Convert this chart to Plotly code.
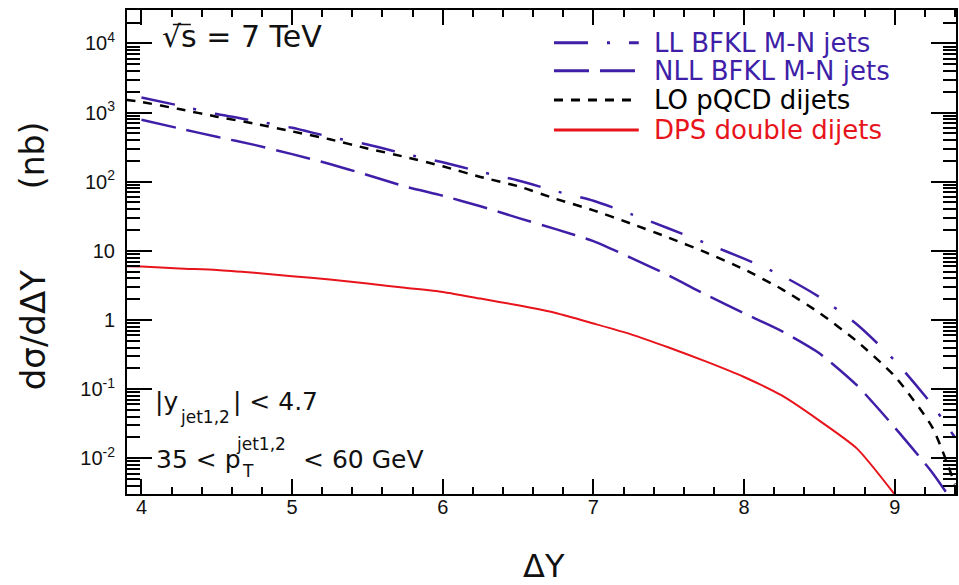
import plotly.graph_objects as go

# ---------------- data ----------------
dY_bfkl = [4.0, 4.25, 4.5, 4.75, 5.0, 5.25, 5.5, 5.75, 6.0, 6.25, 6.5, 6.75,
           7.0, 7.25, 7.5, 7.75, 8.0, 8.25, 8.5, 8.75, 9.0, 9.25, 9.4]
ll_bfkl = [1650, 1260, 950, 760, 600, 445, 345, 252, 191, 139, 104, 73,
           53, 34, 21, 12.8, 7.7, 4.4, 2.15, 0.86, 0.26, 0.059, 0.02]
nll_bfkl = [784, 590, 445, 340, 250, 180, 125, 85, 62.5, 44, 30, 20.6,
            13.8, 7.9, 4.4, 2.3, 1.25, 0.69, 0.33, 0.113, 0.028, 0.0062, 0.0021]

dY_lo = [3.9, 4.0, 4.25, 4.5, 4.75, 5.0, 5.25, 5.5, 5.75, 6.0, 6.25, 6.5, 6.75,
         7.0, 7.25, 7.5, 7.75, 8.0, 8.25, 8.5, 8.75, 9.0, 9.25, 9.4]
lo_pqcd = [1520, 1420, 1120, 870, 690, 533, 410, 302, 228, 167, 117, 86, 56.5,
           38.5, 24.7, 15.5, 9.4, 5.4, 2.8, 1.27, 0.49, 0.154, 0.028, 0.0042]

dY_dps = [3.9, 4.0, 4.25, 4.5, 4.75, 5.0, 5.25, 5.5, 5.75, 6.0, 6.25, 6.5, 6.75,
          7.0, 7.25, 7.5, 7.75, 8.0, 8.25, 8.5, 8.75, 9.0]
dps = [6.0, 5.95, 5.55, 5.27, 4.8, 4.3, 3.85, 3.36, 2.92, 2.54, 2.04, 1.63, 1.26,
       0.89, 0.62, 0.40, 0.25, 0.15, 0.081, 0.035, 0.0138, 0.003]

y_tickvals = [1e-2, 1e-1, 1, 10, 1e2, 1e3, 1e4]
y_ticktext = ["10<sup>-2</sup>", "10<sup>-1</sup>", "1", "10",
              "10<sup>2</sup>", "10<sup>3</sup>", "10<sup>4</sup>"]
x_tickvals = [4, 5, 6, 7, 8, 9]

series_names = ["LL BFKL M-N jets", "NLL BFKL M-N jets", "LO pQCD dijets", "DPS double dijets"]

# ---------------- styles ----------------
VIOLET = "#3f1fa8"
RED = "#e8141c"
BLACK = "#000000"
DASH_LL = "34px,19px,3px,19px"
DASH_NLL = "35px,11px"
DASH_LO = "9px,8px"

PL, PR, PT, PB = 127, 958, 10, 494
W, H = 959, 585


def px(x):
    return (x - PL) / (PR - PL)


def py(y):
    return (PB - y) / (PB - PT)


fig = go.Figure()
fig.add_trace(go.Scatter(x=dY_bfkl, y=ll_bfkl, mode="lines", name=series_names[0],
                         line=dict(color=VIOLET, width=2.5, dash=DASH_LL, shape="spline", smoothing=0.6)))
fig.add_trace(go.Scatter(x=dY_bfkl, y=nll_bfkl, mode="lines", name=series_names[1],
                         line=dict(color=VIOLET, width=2.5, dash=DASH_NLL, shape="spline", smoothing=0.6)))
fig.add_trace(go.Scatter(x=dY_lo, y=lo_pqcd, mode="lines", name=series_names[2],
                         line=dict(color=BLACK, width=2.5, dash=DASH_LO, shape="spline", smoothing=0.6)))
fig.add_trace(go.Scatter(x=dY_dps, y=dps, mode="lines", name=series_names[3],
                         line=dict(color=RED, width=2, shape="spline", smoothing=0.6)))

# ---------------- manual legend ----------------
legend_rows = [42.7, 70.7, 100, 130]
legend_styles = [(VIOLET, DASH_LL, 3), (VIOLET, DASH_NLL, 3), (BLACK, DASH_LO, 3), (RED, "solid", 3)]
text_colors = [VIOLET, VIOLET, BLACK, RED]
shapes = []
annotations = []
for name, yrow, (col, dsh, wd), tc in zip(series_names, legend_rows, legend_styles, text_colors):
    shapes.append(dict(type="line", xref="paper", yref="paper",
                       x0=px(555), x1=px(640), y0=py(yrow), y1=py(yrow),
                       line=dict(color=col, width=wd, dash=dsh)))
    annotations.append(dict(text=name, xref="paper", yref="paper", x=px(653), y=py(yrow),
                            xanchor="left", yanchor="middle", showarrow=False,
                            font=dict(family="DejaVu Sans", size=26, color=tc)))

TXT = dict(family="DejaVu Sans", color="#111111")

# sqrt(s) label, with the bar over the "s"
annotations.append(dict(text="√s = 7 TeV", xref="paper", yref="paper", x=px(160), y=py(37),
                        xanchor="left", yanchor="middle", showarrow=False,
                        font=dict(TXT, size=30)))
shapes.append(dict(type="line", xref="paper", yref="paper",
                   x0=px(173), x1=px(191), y0=py(24.5), y1=py(24.5),
                   line=dict(color="#111111", width=1.5)))

# cut annotations
cut_ann = [
    dict(text="|y", x=px(153), y=py(401), font=dict(TXT, size=25)),
    dict(text="jet1,2", x=px(178), y=py(417), font=dict(TXT, size=17)),
    dict(text="| < 4.7", x=px(231), y=py(401), font=dict(TXT, size=25)),
    dict(text="35 < p", x=px(154), y=py(459), font=dict(TXT, size=25)),
    dict(text="T", x=px(240), y=py(471), font=dict(TXT, size=17)),
    dict(text="jet1,2", x=px(234), y=py(444), font=dict(TXT, size=17)),
    dict(text="< 60 GeV", x=px(301), y=py(459), font=dict(TXT, size=25)),
]
for a in cut_ann:
    a.update(xref="paper", yref="paper", showarrow=False, xanchor="left", yanchor="middle")
annotations += cut_ann

# axis titles
annotations += [
    dict(text="ΔY", xref="paper", yref="paper", x=px(545), y=py(566), xanchor="center",
         yanchor="middle", showarrow=False, font=dict(TXT, size=32)),
    dict(text="(nb)", xref="paper", yref="paper", x=px(33), y=py(155), xanchor="center",
         yanchor="middle", showarrow=False, textangle=-90, font=dict(TXT, size=33)),
    dict(text="dσ/dΔY", xref="paper", yref="paper", x=px(33), y=py(330), xanchor="center",
         yanchor="middle", showarrow=False, textangle=-90, font=dict(TXT, size=34)),
]

fig.update_layout(
    width=W, height=H,
    margin=dict(l=PL, r=W - PR, t=PT, b=H - PB),
    paper_bgcolor="white", plot_bgcolor="white",
    showlegend=False,
    font=dict(family="Liberation Sans", color="#111111"),
    shapes=shapes, annotations=annotations,
)
fig.update_xaxes(
    range=[3.904, 9.407], tickmode="array", tickvals=x_tickvals,
    ticks="inside", ticklen=15, tickwidth=1.5, tickcolor="black",
    minor=dict(dtick=0.2, ticks="inside", ticklen=7, tickwidth=1.5, tickcolor="black"),
    showline=True, linewidth=2, linecolor="black", mirror="ticks",
    showgrid=False, zeroline=False,
    tickfont=dict(family="Liberation Sans", size=20, color="#111111"),
    ticklabelstandoff=-6,
)
fig.update_yaxes(
    type="log", range=[-2.516, 4.482], tickmode="array",
    tickvals=y_tickvals, ticktext=y_ticktext,
    ticks="inside", ticklen=25, tickwidth=1.5, tickcolor="black",
    minor=dict(dtick="D1", ticks="inside", ticklen=13, tickwidth=1.5, tickcolor="black"),
    showline=True, linewidth=2, linecolor="black", mirror="ticks",
    showgrid=False, zeroline=False,
    tickfont=dict(family="Liberation Sans", size=20, color="#111111"),
    ticklabelstandoff=6,
)

fig.write_html("out.html")
